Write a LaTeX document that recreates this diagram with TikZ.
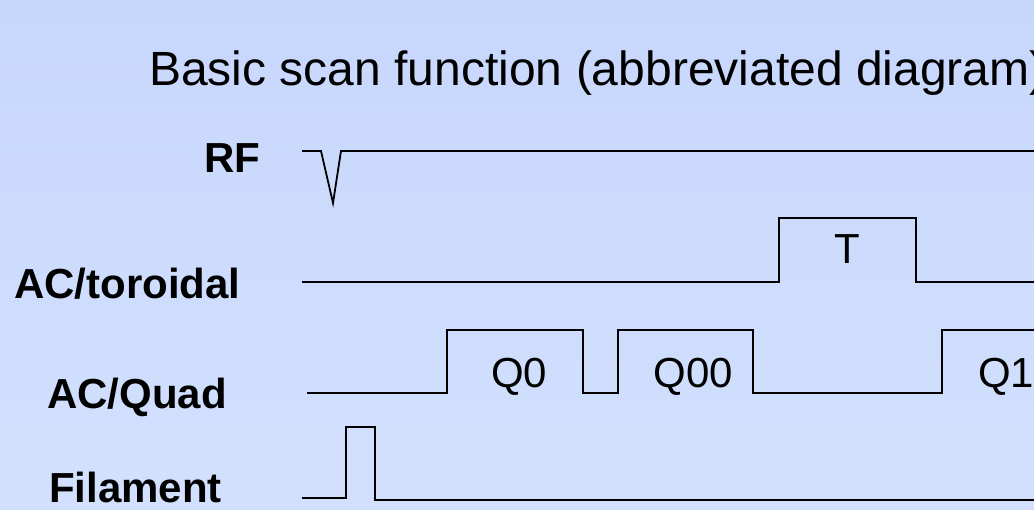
\documentclass[tikz,border=0pt]{standalone}
\usepackage{fontspec}
\setmainfont{Liberation Sans}
\usetikzlibrary{positioning}
\definecolor{slidetop}{RGB}{199,215,252}
\definecolor{slidebot}{RGB}{211,224,253}

\begin{document}
\begin{tikzpicture}[x=1pt, y=-1pt,
    sig/.style={line width=1.8pt, line join=miter},
    lab/.style={font=\fontsize{42}{48}\selectfont\bfseries, anchor=base west, inner sep=0pt},
    tag/.style={font=\fontsize{42}{48}\selectfont, inner sep=0pt}
]

% slide background
\useasboundingbox (0,0) rectangle (1034,509);
\clip (0,0) rectangle (1034,509);
\fill[top color=slidetop, bottom color=slidebot] (0,0) rectangle (1034,509);

% title
\node[font=\fontsize{48}{56}\selectfont, anchor=base west, inner sep=0pt] (title) at (149,85) {Basic scan function (abbreviated diagram)};

% channel names
\node[lab] (rf) at (204,172) {RF};
\node[lab] (toro) at (14,298) {AC/toroidal};
\node[lab] (quad) at (47,408) {AC/Quad};
\node[lab] (fil) at (49,502) {Filament};

% RF
\draw[sig] (302,151) -- (321,151) -- (333,203) -- (341,151) -- (1040,151);

% AC/toroidal
\draw[sig] (302,282) -- (779,282) -- (779,218) -- (916,218) -- (916,282) -- (1040,282);
\node[tag, anchor=base] (t) at (847,263) {T};

% AC/Quad
\draw[sig] (307,393) -- (447,393) -- (447,330) -- (583,330) -- (583,393)
    -- (618,393) -- (618,330) -- (753,330) -- (753,393) -- (942,393) -- (942,330) -- (1040,330);
\node[tag, anchor=base west] (q0) at (491,387) {Q0};
\node[tag, anchor=base east] (q00) at (733,387) {Q00};
\node[tag, anchor=base west] (q1) at (978,387) {Q1};

% Filament
\draw[sig] (302,498) -- (346,498) -- (346,427) -- (375,427) -- (375,500) -- (1040,500);

\end{tikzpicture}
\end{document}
